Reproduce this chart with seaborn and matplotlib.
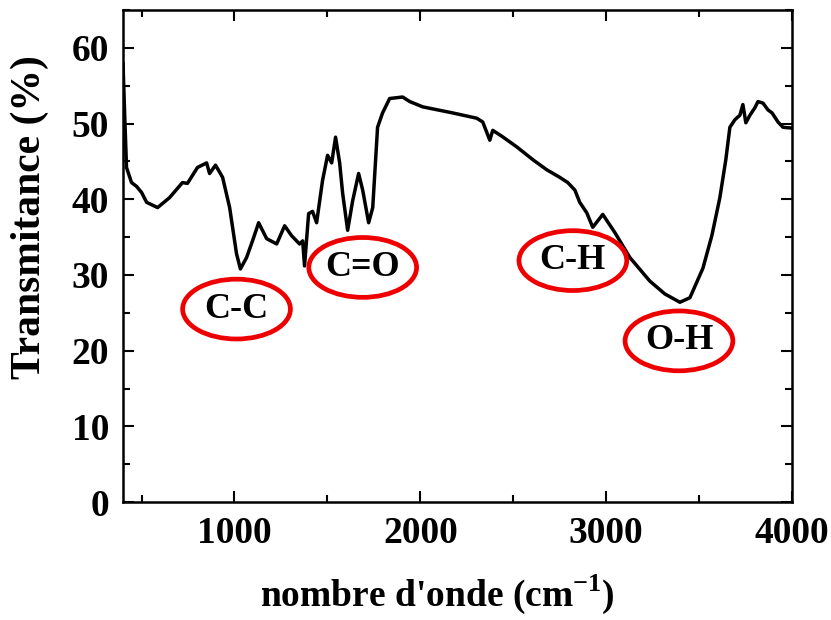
import numpy as np
import pandas as pd
import matplotlib
matplotlib.use("Agg")
import matplotlib.pyplot as plt
import seaborn as sns
from matplotlib.patches import Ellipse
from matplotlib.ticker import MultipleLocator

wavenumber = [400, 410, 419, 446, 473, 500, 527, 586, 650, 720, 747, 801, 850, 866, 898, 936,
              974, 1011, 1032, 1065, 1097, 1130, 1173, 1227, 1270, 1307, 1350, 1367, 1377, 1399,
              1420, 1442, 1474, 1501, 1523, 1544, 1566, 1582, 1609, 1636, 1668, 1690, 1722, 1744,
              1770, 1797, 1835, 1905, 1943, 2013, 2174, 2304, 2336, 2374, 2390, 2440, 2520, 2607,
              2680, 2750, 2794, 2832, 2858, 2896, 2928, 2982, 3047, 3128, 3235, 3316, 3397, 3451,
              3521, 3569, 3612, 3644, 3666, 3693, 3720, 3736, 3752, 3774, 3801, 3817, 3844, 3871,
              3893, 3925, 3952, 4000]
transmittance = [58.0, 50.5, 44.2, 42.2, 41.7, 40.9, 39.6, 38.9, 40.2, 42.2, 42.1, 44.2, 44.8, 43.4,
                 44.5, 42.9, 38.9, 32.8, 30.8, 32.3, 34.5, 36.9, 34.8, 34.1, 36.5, 35.2, 34.1, 34.5,
                 31.2, 38.1, 38.4, 36.9, 42.5, 45.8, 44.8, 48.2, 44.8, 40.8, 35.9, 39.8, 43.4, 41.2,
                 36.9, 38.9, 49.5, 51.4, 53.3, 53.5, 52.9, 52.2, 51.4, 50.7, 50.2, 47.8, 49.1, 48.3,
                 46.9, 45.2, 43.9, 42.9, 42.2, 41.2, 39.6, 38.2, 36.3, 38.0, 35.6, 32.3, 29.2, 27.5,
                 26.4, 27.0, 30.9, 35.2, 40.2, 45.2, 49.5, 50.5, 51.1, 52.5, 50.1, 51.1, 52.1, 52.9,
                 52.7, 51.8, 51.4, 50.2, 49.5, 49.4]

band_labels = ["C-C", "C=O", "C-H", "O-H"]
band_x = [1011, 1690, 2821, 3392]
band_y = [25.5, 31.0, 31.9, 21.3]

xticks = [1000, 2000, 3000, 4000]
yticks = [0, 10, 20, 30, 40, 50, 60]

sns.set_style("ticks")
plt.rcParams['font.family'] = ['Liberation Serif', 'DejaVu Serif']
plt.rcParams['font.weight'] = 'bold'
plt.rcParams['mathtext.fontset'] = 'custom'
plt.rcParams['mathtext.rm'] = 'Liberation Serif:bold'
plt.rcParams['mathtext.bf'] = 'Liberation Serif:bold'
for k in ['text.color', 'axes.labelcolor', 'xtick.color', 'ytick.color', 'axes.edgecolor']:
    plt.rcParams[k] = 'black'

df = pd.DataFrame({"wn": wavenumber, "T": transmittance})

fig = plt.figure(figsize=(8.31, 6.2), dpi=100)
ax = fig.add_axes([0.148, 0.190, 0.805, 0.794])
sns.lineplot(data=df, x="wn", y="T", ax=ax, color="black", linewidth=2.5)

for lab, x, y in zip(band_labels, band_x, band_y):
    e = Ellipse((x, y), width=580, height=7.9, facecolor="white", edgecolor="#ee0000",
                linewidth=3.4, zorder=5)
    ax.add_patch(e)
    ax.text(x, y, lab, ha="center", va="center", fontsize=26, fontweight="bold", zorder=6)

ax.set_xlim(400, 4000)
ax.set_ylim(0, 65)
ax.set_xticks(xticks)
ax.set_yticks(yticks)
ax.xaxis.set_minor_locator(MultipleLocator(500))
ax.yaxis.set_minor_locator(MultipleLocator(5))
ax.tick_params(which="both", direction="in", top=True, right=True, width=1.5)
ax.tick_params(which="major", length=8, labelsize=27, pad=10)
ax.tick_params(which="minor", length=5)
for lbl in ax.get_xticklabels() + ax.get_yticklabels():
    lbl.set_fontweight("bold")
for s in ax.spines.values():
    s.set_linewidth(1.8)

ax.set_xlabel(r"nombre d'onde (cm$^{\mathbf{-1}}$)", fontsize=27, fontweight="bold")
ax.set_ylabel("Transmitance (%)", fontsize=30, fontweight="bold")
ax.xaxis.set_label_coords(0.47, -0.142)
ax.yaxis.set_label_coords(-0.11, 0.58)

fig.savefig("out.png", dpi=100)
